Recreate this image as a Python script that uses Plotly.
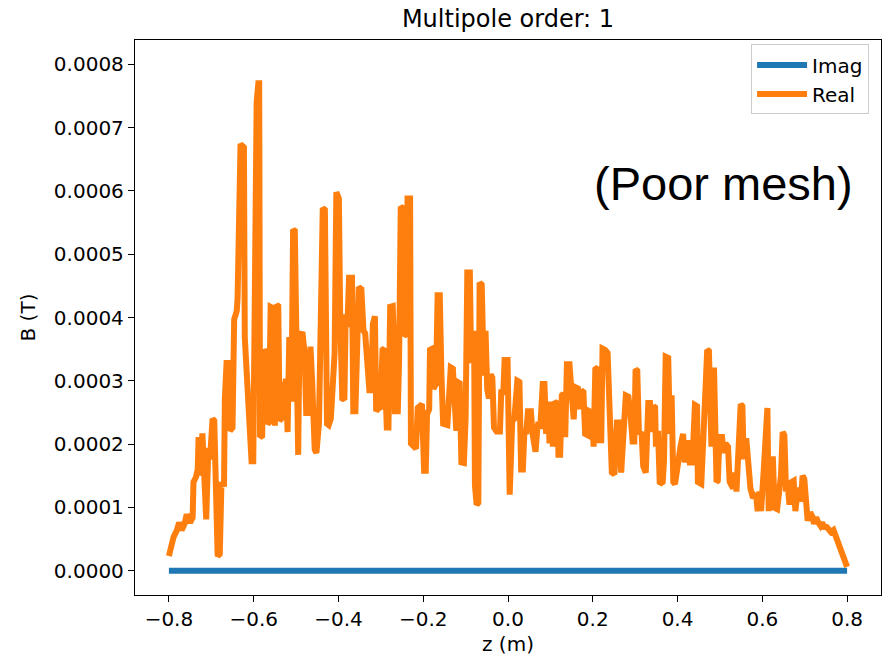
import plotly.graph_objects as go

# Axial position along the magnet (m)
z = [
    -0.800, -0.789, -0.781, -0.776, -0.770, -0.763, -0.758, -0.750, -0.744, -0.742,
    -0.736, -0.732, -0.730, -0.726, -0.721, -0.716, -0.712, -0.707, -0.703, -0.697,
    -0.693, -0.685, -0.680, -0.676, -0.670, -0.668, -0.664, -0.660, -0.656, -0.650,
    -0.646, -0.640, -0.638, -0.631, -0.623, -0.621, -0.617, -0.614, -0.609, -0.605,
    -0.601, -0.593, -0.589, -0.587, -0.585, -0.580, -0.576, -0.572, -0.567, -0.564,
    -0.560, -0.554, -0.550, -0.546,
    -0.542, -0.539, -0.535, -0.531, -0.528, -0.524, -0.520, -0.516, -0.511, -0.507,
    -0.503, -0.499, -0.495, -0.492, -0.485, -0.480, -0.476, -0.470, -0.466, -0.462,
    -0.456, -0.452, -0.446, -0.437, -0.432, -0.427, -0.423, -0.418, -0.409, -0.405,
    -0.399, -0.396, -0.391, -0.386, -0.383, -0.379, -0.375, -0.368, -0.365, -0.360,
    -0.356, -0.352, -0.346, -0.341, -0.337, -0.331, -0.327, -0.322, -0.319, -0.314,
    -0.311, -0.305, -0.301, -0.296, -0.292, -0.286, -0.282, -0.278,
    -0.272, -0.270, -0.267, -0.260, -0.257, -0.253, -0.246, -0.245, -0.241, -0.237,
    -0.231, -0.229, -0.223, -0.217, -0.213, -0.207, -0.203, -0.198, -0.194, -0.191,
    -0.186, -0.184, -0.178, -0.176, -0.170, -0.166, -0.161, -0.157, -0.153, -0.143,
    -0.139, -0.135, -0.130, -0.126, -0.122, -0.119, -0.114, -0.110, -0.104, -0.100,
    -0.096, -0.090, -0.087, -0.080, -0.078, -0.074, -0.070, -0.067, -0.062, -0.057,
    -0.053, -0.049, -0.045, -0.041, -0.037, -0.033, -0.027, -0.019, -0.016, -0.011,
    -0.008, -0.001,
    0.004, 0.010, 0.015, 0.022, 0.027, 0.031, 0.035, 0.039, 0.043, 0.047,
    0.054, 0.058, 0.065, 0.069, 0.072, 0.076, 0.082, 0.086, 0.090, 0.094,
    0.098, 0.102, 0.106, 0.110, 0.116, 0.119, 0.123, 0.127, 0.131, 0.135,
    0.139, 0.145, 0.149, 0.155, 0.159, 0.165, 0.168, 0.173, 0.178, 0.182,
    0.188, 0.192, 0.198, 0.202, 0.206, 0.212, 0.215, 0.220, 0.223, 0.229,
    0.235, 0.240, 0.245, 0.251, 0.257, 0.262, 0.267,
    0.278, 0.284, 0.289, 0.294, 0.298, 0.301, 0.305, 0.309, 0.315, 0.319,
    0.325, 0.331, 0.335, 0.339, 0.343, 0.347, 0.349, 0.354, 0.358, 0.365,
    0.368, 0.372, 0.378, 0.382, 0.386, 0.390, 0.394, 0.399, 0.403, 0.407,
    0.413, 0.417, 0.421, 0.425, 0.429, 0.435, 0.441, 0.446, 0.448, 0.456,
    0.464, 0.470, 0.474, 0.480, 0.486, 0.492, 0.495, 0.499, 0.505, 0.509,
    0.513, 0.519, 0.523, 0.531, 0.535,
    0.539, 0.542, 0.546, 0.549, 0.553, 0.556, 0.562, 0.566, 0.572, 0.578,
    0.582, 0.586, 0.589, 0.593, 0.597, 0.603, 0.609, 0.612, 0.615, 0.619,
    0.625, 0.629, 0.635, 0.640, 0.644, 0.648, 0.652, 0.656, 0.660, 0.664,
    0.669, 0.674, 0.678, 0.683, 0.687, 0.691, 0.695, 0.699, 0.703, 0.707,
    0.713, 0.719, 0.722, 0.727, 0.732, 0.737, 0.741, 0.746, 0.752, 0.756,
    0.762, 0.768, 0.772, 0.777, 0.784, 0.789, 0.795, 0.800,
]

# Real part of the order-1 multipole field, in units of 1e-4 T
b_real_1e4 = [
    0.23, 0.53, 0.64, 0.76, 0.64, 0.74, 0.89, 0.76, 0.84, 1.40,
    1.48, 1.60, 2.11, 1.50, 2.17, 1.25, 0.81, 1.94, 1.76, 2.40,
    2.37, 0.23, 0.26, 1.40, 1.33, 2.72, 3.28, 3.28, 2.21, 2.26,
    3.97, 4.10, 4.30, 6.74, 6.69, 3.69, 3.28, 2.78, 2.26, 1.73,
    1.73, 7.40, 7.70, 7.70, 2.11, 2.13, 3.49, 3.45, 2.32, 2.34,
    4.17, 4.15, 2.29, 4.20,
    4.18, 2.37, 2.40, 2.98, 2.75, 3.03, 2.19, 3.69, 2.67, 5.39,
    5.37, 3.64, 1.83, 3.69, 3.77, 3.45, 2.49, 2.49, 3.54, 2.98,
    1.91, 1.86, 2.32, 5.73, 5.70, 2.32, 2.30, 2.40, 3.44, 5.98,
    5.88, 4.05, 2.72, 2.70, 4.05, 3.85, 4.63, 4.63, 2.52, 2.52,
    3.69, 4.48, 4.45, 3.79, 3.75, 3.08, 2.85, 2.85, 3.89, 4.02,
    2.52, 2.57, 2.55, 3.49, 3.51, 2.26, 2.26, 4.17,
    4.18, 3.80, 2.52, 2.52, 3.30, 5.75, 5.72, 3.71, 3.73, 5.88,
    5.88, 2.01, 1.98, 1.93, 2.57, 2.62, 2.63, 1.58, 1.58, 2.47,
    2.55, 3.49, 3.51, 2.87, 2.95, 4.35, 4.35, 3.08, 2.32, 2.30,
    2.72, 3.21, 3.19, 2.55, 2.21, 2.98, 2.96, 1.71, 1.70, 2.40,
    4.71, 4.71, 3.28, 3.79, 1.35, 1.04, 1.07, 4.55, 4.52, 3.08,
    3.79, 2.87, 2.72, 3.10, 3.05, 2.26, 2.20, 2.20, 2.82, 2.82,
    3.33, 3.33,
    1.20, 2.37, 2.40, 3.00, 2.98, 1.60, 1.60, 2.24, 2.16, 2.52,
    2.52, 2.16, 1.88, 2.24, 2.35, 2.24, 2.95, 2.95, 2.16, 2.67,
    2.01, 2.67, 1.96, 2.67, 2.64, 1.83, 1.83, 2.77, 2.80, 2.11,
    3.26, 3.26, 2.72, 2.39, 2.90, 2.88, 2.55, 2.85, 2.82, 2.16,
    2.14, 2.52, 2.50, 1.96, 3.18, 3.21, 2.06, 2.06, 3.51, 3.49,
    3.44, 2.20, 1.55, 1.52, 2.34, 2.34, 1.55,
    2.77, 2.75, 2.47, 2.04, 2.04, 3.18, 3.16, 2.16, 2.19, 1.65,
    1.55, 2.65, 2.65, 2.19, 2.60, 2.58, 1.96, 2.21, 1.37, 1.40,
    1.73, 3.38, 3.36, 2.16, 2.77, 1.40, 1.37, 1.68, 1.80, 1.96,
    2.16, 1.71, 1.86, 2.06, 1.71, 1.71, 2.62, 2.60, 1.40, 1.37,
    2.57, 3.49, 3.47, 1.96, 3.21, 1.40, 1.42, 2.11, 2.11, 1.86,
    2.01, 1.96, 1.40, 1.30, 1.55,
    1.25, 1.60, 2.47, 2.63, 2.60, 1.76, 2.09, 1.76, 1.30, 1.15,
    1.18, 1.15, 0.94, 1.25, 0.94, 1.55, 2.57, 2.57, 0.94, 1.76,
    1.76, 0.99, 0.97, 1.25, 1.50, 2.19, 2.14, 1.25, 1.35, 1.04,
    1.40, 1.42, 0.94, 1.25, 1.30, 1.09, 1.50, 1.45, 1.04, 0.79,
    0.92, 0.84, 0.74, 0.84, 0.76, 0.71, 0.76, 0.69, 0.69, 0.64,
    0.61, 0.64, 0.56, 0.48, 0.38, 0.23, 0.12, 0.06,
]

# Imaginary part is identically zero for this order
b_imag_1e4 = [0.0] * len(z)

UNIT = 1e-4  # tesla per listed unit

x_ticks = [-0.8, -0.6, -0.4, -0.2, 0.0, 0.2, 0.4, 0.6, 0.8]
y_ticks = [0.0, 0.0001, 0.0002, 0.0003, 0.0004, 0.0005, 0.0006, 0.0007, 0.0008]

assert len(z) == len(b_real_1e4)

BLUE = "#1f77b4"
ORANGE = "#ff7f0e"
FONT = "DejaVu Sans"

fig = go.Figure()
fig.add_trace(go.Scatter(
    x=z, y=[v * UNIT for v in b_imag_1e4], mode="lines", name="Imag",
    line=dict(color=BLUE, width=6),
))
fig.add_trace(go.Scatter(
    x=z, y=[v * UNIT for v in b_real_1e4], mode="lines", name="Real",
    line=dict(color=ORANGE, width=6, shape="linear"),
))

b_max = max(b_real_1e4) * UNIT
pad = 0.05 * b_max

axis_common = dict(
    showline=True, linecolor="black", linewidth=1.3, mirror=True,
    ticks="outside", ticklen=6, tickwidth=1.3, tickcolor="black",
    showgrid=False, zeroline=False,
    tickfont=dict(family=FONT, size=20, color="black"),
)

fig.update_layout(
    width=883, height=659,
    margin=dict(l=135, r=2, t=40, b=64),
    paper_bgcolor="white", plot_bgcolor="white",
    font=dict(family=FONT, size=20, color="black"),
    title=dict(text="Multipole order: 1", x=0.5, xref="paper", xanchor="center",
               y=1 - 19 / 659, yanchor="middle",
               font=dict(family=FONT, size=24, color="black")),
    xaxis=dict(range=[-0.88, 0.88], tickvals=x_ticks, tickformat=".1f",
               title=dict(text="z (m)", font=dict(family=FONT, size=20), standoff=6),
               **axis_common),
    yaxis=dict(range=[-pad, 0.0008 + pad * 1.0], tickvals=y_ticks, tickformat=".4f",
               title=dict(text="B (T)", font=dict(family=FONT, size=20), standoff=12),
               **axis_common),
    legend=dict(x=0.984, y=0.992, xanchor="right", yanchor="top",
                bordercolor="#cccccc", borderwidth=1, itemwidth=50,
                bgcolor="rgba(255,255,255,0.8)",
                font=dict(family=FONT, size=20, color="black")),
    showlegend=True,
)

fig.add_annotation(
    text="(Poor mesh)", xref="paper", yref="paper",
    x=0.7895, y=0.741, xanchor="center", yanchor="middle",
    showarrow=False, font=dict(family="Liberation Sans", size=47, color="black"),
)

fig.write_html("out.html")
